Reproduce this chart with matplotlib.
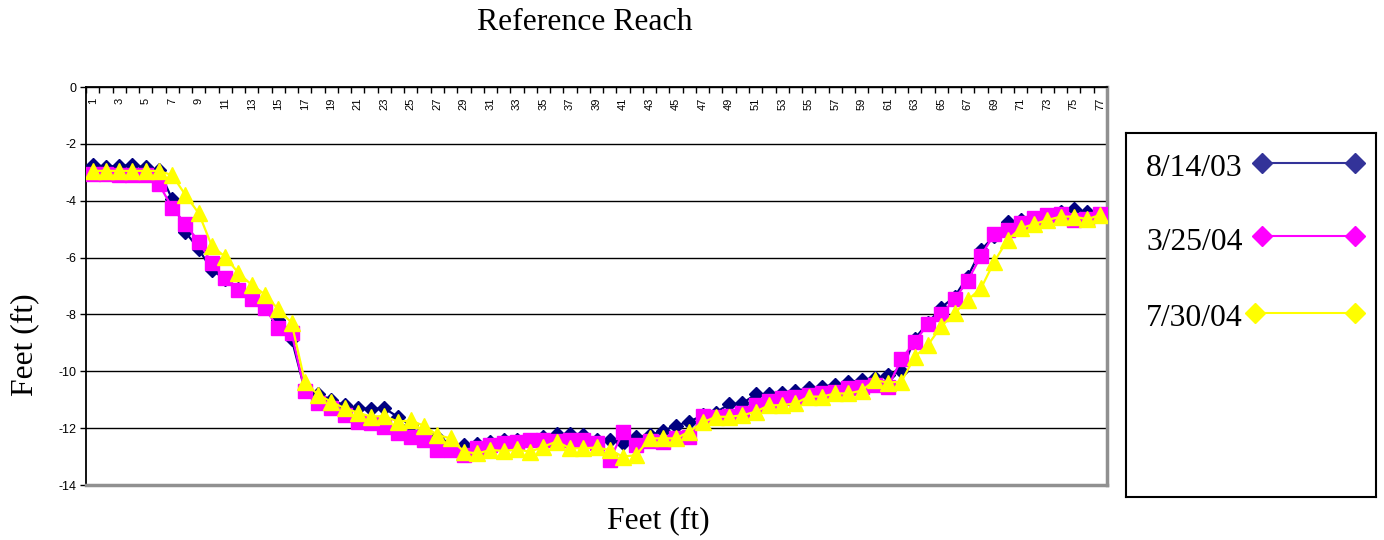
import numpy as np
import matplotlib
matplotlib.use("Agg")
import matplotlib.pyplot as plt
from matplotlib.lines import Line2D

# 数据：77个测点，三次测量的高程（ft）
stations = np.arange(1, 78)

dates = ["8/14/03", "3/25/04", "7/30/04"]

elev_0803 = [-2.75, -2.8, -2.78, -2.75, -2.82, -2.92, -3.95, -5.1, -5.7, -6.45,
             -6.75, -7.1, -7.42, -7.72, -8.2, -8.85, -10.65, -10.8, -11.0, -11.2,
             -11.3, -11.33, -11.3, -11.6, -11.9, -12.1, -12.3, -12.55, -12.6, -12.55,
             -12.47, -12.42, -12.4, -12.4, -12.3, -12.22, -12.22, -12.25, -12.42, -12.42,
             -12.53, -12.32, -12.25, -12.1, -11.91, -11.77, -11.55, -11.45, -11.16, -11.13,
             -10.81, -10.81, -10.78, -10.69, -10.6, -10.54, -10.48, -10.39, -10.31, -10.25,
             -10.13, -10.0, -8.85, -8.3, -7.76, -7.38, -6.67, -5.73, -5.25, -4.74,
             -4.68, -4.6, -4.55, -4.39, -4.29, -4.39, -4.45]

elev_0304 = [-3.05, -3.05, -3.1, -3.1, -3.1, -3.42, -4.24, -4.82, -5.44, -6.2,
             -6.73, -7.14, -7.45, -7.79, -8.48, -8.64, -10.7, -11.1, -11.3, -11.54,
             -11.77, -11.83, -11.95, -12.18, -12.3, -12.4, -12.77, -12.77, -12.94, -12.71,
             -12.59, -12.53, -12.47, -12.42, -12.42, -12.45, -12.42, -12.42, -12.53, -13.12,
             -12.14, -12.59, -12.44, -12.47, -12.36, -12.32, -11.56, -11.6, -11.57, -11.48,
             -11.19, -11.05, -10.95, -10.89, -10.83, -10.78, -10.72, -10.6, -10.55, -10.48,
             -10.54, -9.57, -8.96, -8.34, -8.0, -7.47, -6.81, -5.94, -5.17, -5.03,
             -4.8, -4.62, -4.5, -4.45, -4.68, -4.66, -4.45]

elev_0704 = [-2.95, -2.95, -2.95, -2.95, -2.95, -2.95, -3.1, -3.8, -4.44, -5.6,
             -5.97, -6.55, -6.96, -7.3, -7.82, -8.29, -10.36, -10.83, -11.07, -11.3,
             -11.45, -11.6, -11.57, -11.77, -11.73, -11.92, -12.24, -12.36, -12.83, -12.89,
             -12.77, -12.8, -12.75, -12.83, -12.65, -12.47, -12.71, -12.71, -12.68, -12.77,
             -13.0, -12.95, -12.36, -12.36, -12.36, -12.12, -11.8, -11.6, -11.6, -11.55,
             -11.42, -11.2, -11.19, -11.13, -10.89, -10.89, -10.78, -10.78, -10.68, -10.31,
             -10.4, -10.36, -9.49, -9.07, -8.42, -7.96, -7.49, -7.08, -6.14, -5.38,
             -4.97, -4.82, -4.68, -4.56, -4.56, -4.65, -4.5]

y_ticks = [0, -2, -4, -6, -8, -10, -12, -14]

SERIF = "Liberation Serif"
SANS = "Liberation Sans"

fig = plt.figure(figsize=(13.84, 5.4), dpi=100)
W, H = 1384.0, 540.0
ax = fig.add_axes([86 / W, 1 - 485 / H, (1107 - 86) / W, (485 - 87) / H])

# 三条线：深蓝菱形、品红方块、黄色三角
ax.plot(stations, elev_0803, color="#000080", lw=1.6, marker="D", ms=7.5,
        mec="#000080", mfc="#000080", zorder=3)
ax.plot(stations, elev_0304, color="#FF00FF", lw=1.6, marker="s", ms=10.5,
        mec="#FF00FF", mfc="#FF00FF", zorder=4)
ax.plot(stations, elev_0704, color="#FFFF00", lw=1.6, marker="^", ms=11,
        mec="#FFFF00", mfc="#FFFF00", zorder=5)

ax.set_xlim(0.5, 77.5)
ax.set_ylim(-14, 0)

# y轴
ax.set_yticks(y_ticks)
ax.set_yticklabels([str(v) for v in y_ticks], fontsize=9, family=SANS)
ax.tick_params(axis="y", direction="out", length=4, width=1, pad=3)
ax.yaxis.grid(True, color="black", lw=1)
ax.set_axisbelow(True)

# x轴在顶部(y=0)，标签旋转并位于轴线下方
ax.set_xticks(stations[::2])
ax.set_xticklabels([str(s) for s in stations[::2]], fontsize=8, family=SANS)
ax.set_xticks(np.arange(0.5, 78, 1), minor=True)
ax.tick_params(axis="x", which="major", bottom=False, top=False, labelbottom=False,
               labeltop=True, labelrotation=90, pad=-7.5, length=0)
ax.tick_params(axis="x", which="minor", bottom=False, top=True, direction="in",
               length=4, width=1)
for t in ax.xaxis.get_major_ticks():
    t.label2.set_va("top")

for side in ["top", "left"]:
    ax.spines[side].set_color("black")
    ax.spines[side].set_linewidth(1.3)
for side in ["bottom", "right"]:
    ax.spines[side].set_color("#909090")
    ax.spines[side].set_linewidth(2.5)

fig.text(585 / W, 1 - 23 / H, "Reference Reach", family=SERIF, fontsize=22.8,
         ha="center", va="center")
fig.text(658 / W, 1 - 521 / H, "Feet (ft)", family=SERIF, fontsize=22.8,
         ha="center", va="center")
fig.text(25 / W, 1 - 345 / H, "Feet (ft)", family=SERIF, fontsize=22.8,
         ha="center", va="center", rotation=90)

# 图例（手动画框）
lax = fig.add_axes([1126 / W, 1 - 497 / H, 250 / W, 364 / H])
lax.set_xlim(0, 250)
lax.set_ylim(364, 0)
lax.set_xticks([])
lax.set_yticks([])
for s in lax.spines.values():
    s.set_color("black")
    s.set_linewidth(1.5)
leg_colors = ["#333399", "#FF00FF", "#FFFF00"]
leg_y = [30, 103, 180]
leg_x0 = [136, 136, 129]
for name, c, yy, x0 in zip(dates, leg_colors, leg_y, leg_x0):
    lax.text(20, yy + 6, name, family=SERIF, fontsize=22.8, va="center", ha="left")
    lax.add_line(Line2D([x0, 229], [yy, yy], color=c, lw=1.5, marker="D", ms=10,
                        mec=c, mfc=c))

fig.savefig("out.png", dpi=100)
